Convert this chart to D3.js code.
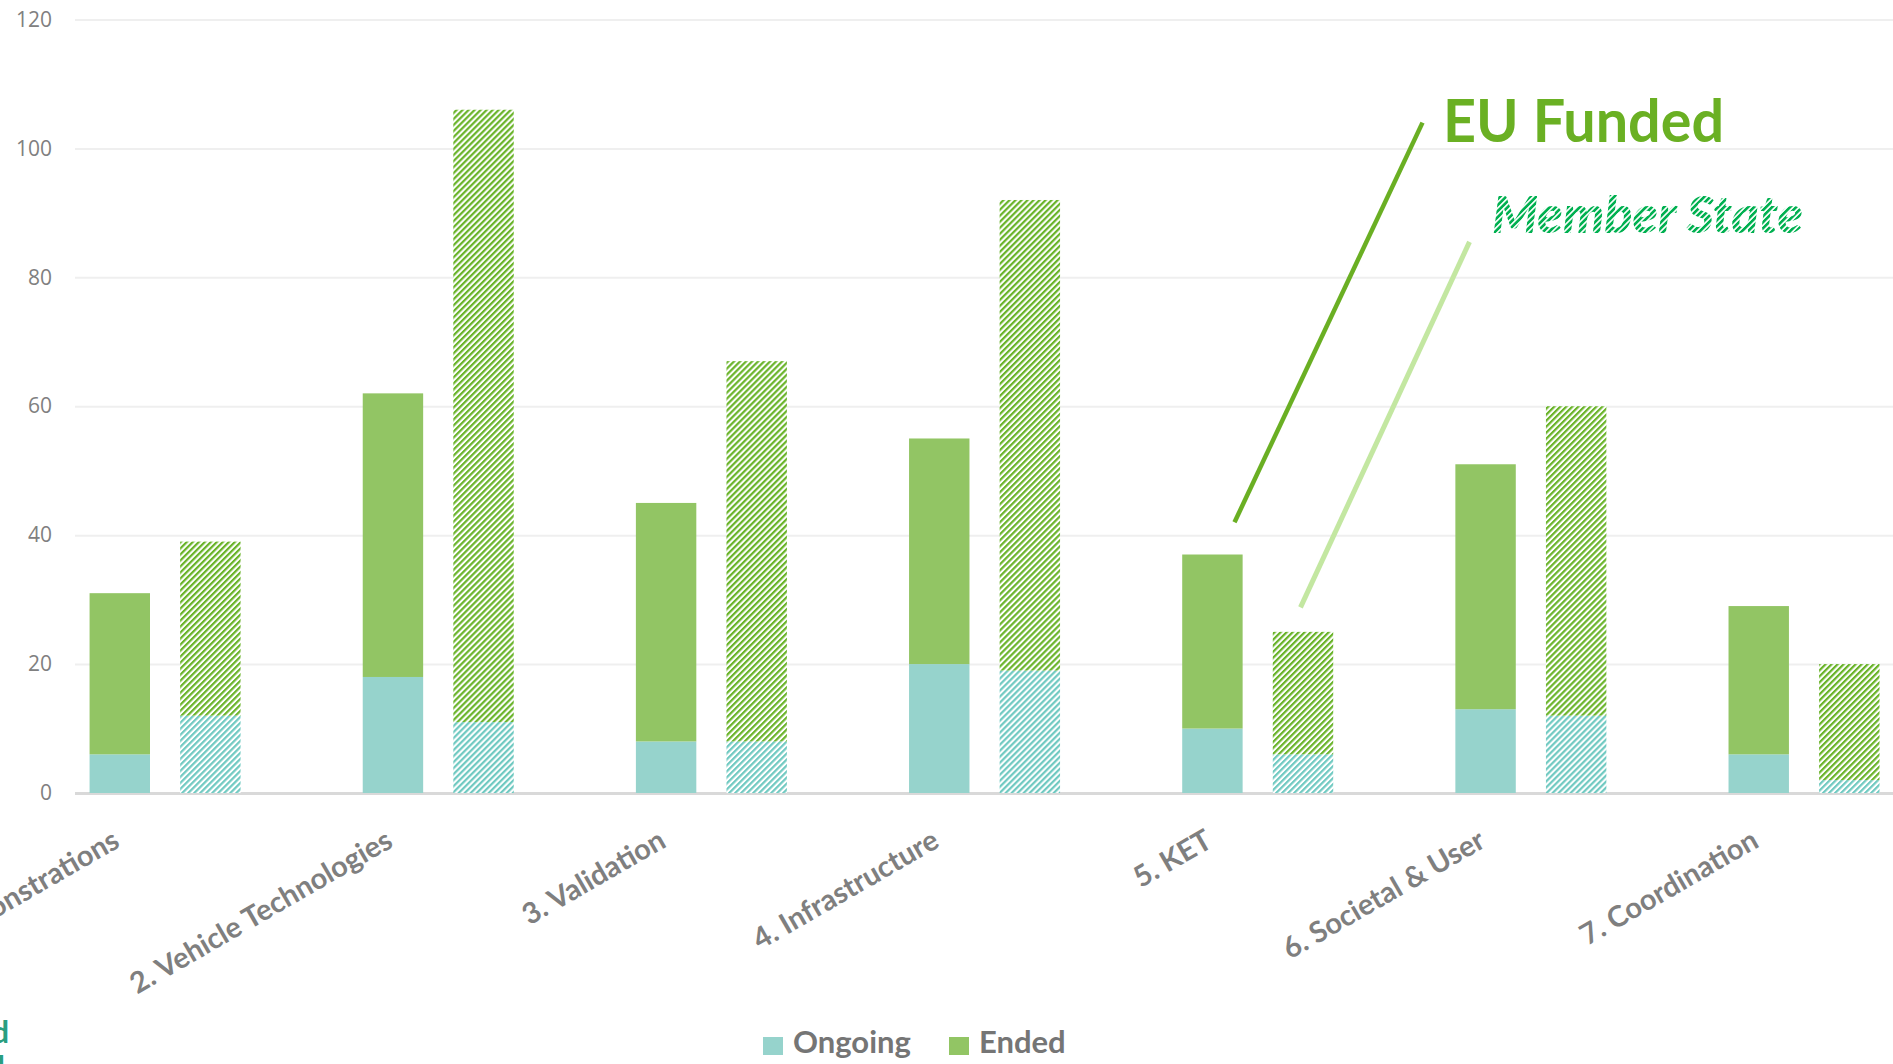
<!DOCTYPE html>
<html>
<head>
<meta charset="utf-8">
<script src="https://cdn.jsdelivr.net/npm/d3@7"></script>
<style>
  html, body { margin: 0; padding: 0; background: #fff; overflow: hidden; }
  svg { display: block; }
</style>
</head>
<body>
<div id="chart"></div>
<script>
// data
const categories = ["1. Demonstrations", "2. Vehicle Technologies", "3. Validation",
    "4. Infrastructure", "5. KET", "6. Societal & User", "7. Coordination"];
const euOngoing = [6, 18, 8, 20, 10, 13, 6];
const euEnded = [25, 44, 37, 35, 27, 38, 23];
const msOngoing = [12, 11, 8, 19, 6, 12, 2];
const msEnded = [27, 95, 59, 73, 19, 48, 18];
const yTicks = [0, 20, 40, 60, 80, 100, 120];
const statusKeys = ["Ongoing", "Ended"];
const fundingKeys = ["eu", "ms"];

const width = 1893, height = 1064;
const colors = { Ongoing: "#96d3cc", Ended: "#92c564" };
const hatchColors = { Ongoing: "#6fc9c1", Ended: "#6ab42a" };

const svg = d3.select("#chart").append("svg")
    .attr("width", width)
    .attr("height", height);

const defs = svg.append("defs");
statusKeys.forEach(k => {
    const p = defs.append("pattern")
        .attr("id", "hatch-" + k)
        .attr("patternUnits", "userSpaceOnUse")
        .attr("width", 4.25)
        .attr("height", 10)
        .attr("patternTransform", "rotate(45)");
    p.append("rect").attr("width", 4.25).attr("height", 10).attr("fill", "#fff");
    p.append("rect").attr("width", 2.2).attr("height", 10).attr("fill", hatchColors[k]);
});
const txt = defs.append("pattern")
    .attr("id", "hatch-text")
    .attr("patternUnits", "userSpaceOnUse")
    .attr("width", 4.25)
    .attr("height", 10)
    .attr("patternTransform", "rotate(45)");
txt.append("rect").attr("width", 2.6).attr("height", 10).attr("fill", "#00b050");

const x = d3.scaleBand()
    .domain(categories)
    .range([28.8, 1940.9]);

const xInner = d3.scaleBand()
    .domain(fundingKeys)
    .range([-75.8, 75.2])
    .paddingInner(0.333);

const y = d3.scaleLinear()
    .domain([0, 120])
    .range([793, 19.5]);

// gridlines + y labels
const yAxis = svg.append("g")
    .attr("transform", "translate(75,0)")
    .call(d3.axisLeft(y).tickValues(yTicks).tickSize(-(width - 75)).tickPadding(23));
yAxis.select(".domain").remove();
yAxis.selectAll(".tick line")
    .attr("stroke", d => d === 0 ? "#d9d9d9" : "#efefef")
    .attr("stroke-width", d => d === 0 ? 3 : 2);
yAxis.selectAll(".tick text")
    .attr("fill", "#808080")
    .attr("font-family", "'Open Sans', sans-serif")
    .attr("font-size", 21);

const rows = categories.map((c, i) => ({
    cat: c,
    eu: { Ongoing: euOngoing[i], Ended: euEnded[i] },
    ms: { Ongoing: msOngoing[i], Ended: msEnded[i] }
}));

const stack = d3.stack().keys(statusKeys);
fundingKeys.forEach(f => {
    const series = stack(rows.map(r => ({ cat: r.cat, ...r[f] })));
    svg.append("g")
        .selectAll("g")
        .data(series)
        .join("g")
        .attr("fill", s => f === "eu" ? colors[s.key] : `url(#hatch-${s.key})`)
        .selectAll("rect")
        .data(s => s)
        .join("rect")
        .attr("x", d => x(d.data.cat) + x.bandwidth() / 2 + xInner(f))
        .attr("y", d => y(d[1]))
        .attr("width", xInner.bandwidth())
        .attr("height", d => y(d[0]) - y(d[1]));
});

// category labels
svg.append("g")
    .selectAll("text")
    .data(categories)
    .join("text")
    .attr("transform", d => `translate(${x(d) + x.bandwidth() / 2 - 44},846) rotate(-30)`)
    .attr("text-anchor", "end")
    .attr("fill", "#7f7f7f")
    .attr("font-family", "Lato, sans-serif")
    .attr("font-weight", "bold")
    .attr("font-size", 29)
    .text(d => d);

// legend
const legend = svg.append("g").attr("transform", "translate(763,1037)");
const legendX = [0, 186];
statusKeys.forEach((k, i) => {
    const g = legend.append("g").attr("transform", `translate(${legendX[i]},0)`);
    g.append("rect").attr("width", 20).attr("height", 18).attr("fill", colors[k]);
    g.append("text")
        .attr("x", 30)
        .attr("y", 16)
        .attr("fill", "#757575")
        .attr("font-family", "Lato, sans-serif")
        .attr("font-weight", "bold")
        .attr("font-size", 31)
        .text(k);
});

// annotations
const c5 = x("5. KET") + x.bandwidth() / 2;
svg.append("line")
    .attr("x1", c5 - 23.5).attr("y1", y(42))
    .attr("x2", c5 + 164.5).attr("y2", y(104))
    .attr("stroke", "#6aaf23").attr("stroke-width", 4.5);
svg.append("line")
    .attr("x1", c5 + 42.5).attr("y1", y(28.8))
    .attr("x2", c5 + 211.5).attr("y2", y(85.5))
    .attr("stroke", "#c3e7a1").attr("stroke-width", 5);

svg.append("text")
    .attr("x", 1443).attr("y", 142)
    .attr("fill", "#6ab023")
    .attr("font-family", "Lato, sans-serif")
    .attr("font-weight", "bold")
    .attr("font-size", 60)
    .attr("textLength", 281)
    .attr("lengthAdjust", "spacingAndGlyphs")
    .text("EU Funded");

svg.append("text")
    .attr("x", 1492).attr("y", 233)
    .attr("fill", "url(#hatch-text)")
    .attr("font-family", "Lato, sans-serif")
    .attr("font-weight", 900)
    .attr("font-style", "italic")
    .attr("font-size", 51)
    .attr("textLength", 311)
    .attr("lengthAdjust", "spacingAndGlyphs")
    .text("Member State");

// cut-off text at the lower left edge
svg.append("g")
    .attr("fill", "#2a9e80")
    .attr("font-family", "Lato, sans-serif")
    .attr("font-weight", "bold")
    .attr("font-size", 31)
    .attr("text-anchor", "end")
    .selectAll("text")
    .data([["EU Funded", 9, 1043], ["National", 5, 1078]])
    .join("text")
    .attr("x", d => d[1])
    .attr("y", d => d[2])
    .text(d => d[0]);
</script>
</body>
</html>
